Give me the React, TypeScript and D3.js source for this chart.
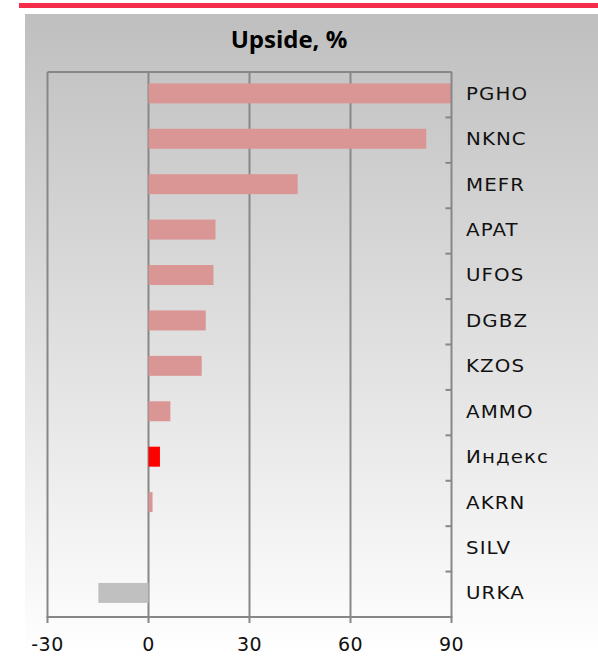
import React from 'react';
import * as d3 from 'd3';

// Upside by ticker, horizontal bars
const tickers = ['PGHO', 'NKNC', 'MEFR', 'APAT', 'UFOS', 'DGBZ', 'KZOS', 'AMMO', 'Индекс', 'AKRN', 'SILV', 'URKA'];
const upside = [90, 82.5, 44.3, 19.9, 19.3, 17.0, 15.8, 6.5, 3.4, 1.2, 0, -14.9];
const xTicks = [-30, 0, 30, 60, 90];

const width = 598;
const height = 656;
const margin = {top: 72, right: 147, bottom: 39, left: 47};

function barColor(name: string, v: number) {
    if (name === 'Индекс') return '#ff0000';
    if (v < 0) return '#c0c0c0';
    return '#da9694';
}

export default function App() {
    const x = d3.scaleLinear()
        .domain([-30, 90])
        .range([margin.left + 0.5, width - margin.right + 0.5]);

    const y = d3.scaleBand()
        .domain(tickers)
        .range([margin.top, height - margin.bottom])
        .paddingInner(0.56)
        .paddingOuter(0.28);

    const step = y.step();
    const top = margin.top;
    const bottom = height - margin.bottom;
    const boundaries = d3.range(tickers.length + 1).map((i) => top + i * (bottom - top) / tickers.length);
    const axisColor = '#878787';

    return (
        <svg width={width} height={height}
             style={{position: 'absolute', left: 0, top: 0, fontFamily: 'DejaVu Sans'}}>
            <defs>
                <linearGradient id="bg" x1="0" y1="0" x2="0" y2="1">
                    <stop offset="0" stopColor="#bfbfbf"/>
                    <stop offset="1" stopColor="#ffffff"/>
                </linearGradient>
            </defs>
            <rect x={0} y={0} width={width} height={height} fill="#ffffff"/>
            <rect x={19} y={3} width={width - 19} height={5} fill="#f52d4b"/>
            <rect x={25} y={14} width={width - 25} height={height - 14} fill="url(#bg)"/>

            <text x={289} y={48} textAnchor="middle" fontFamily="Open Sans" fontWeight="bold"
                  fontSize={24}>Upside, %</text>

            {/* gridlines */}
            {xTicks.slice(1, -1).map((t) => (
                <line key={'g' + t} x1={x(t)} x2={x(t)} y1={top} y2={bottom}
                      stroke={axisColor} strokeWidth={2}/>
            ))}

            {/* bars */}
            {tickers.map((name, i) => {
                const v = upside[i];
                const x0 = x(Math.min(0, v));
                const w = Math.abs(x(v) - x(0));
                return (
                    <rect key={name} x={x0} y={(y(name) as number) - step * 0.03}
                          width={w} height={y.bandwidth()} fill={barColor(name, v)}/>
                );
            })}

            {/* frame */}
            <line x1={x(-30)} x2={x(90)} y1={top} y2={top} stroke={axisColor} strokeWidth={2}/>
            <line x1={x(-30)} x2={x(-30)} y1={top} y2={bottom} stroke={axisColor} strokeWidth={2}/>
            <line x1={x(90)} x2={x(90)} y1={top} y2={bottom} stroke={axisColor} strokeWidth={2}/>
            <line x1={x(-30) - 1} x2={x(90) + 1} y1={bottom} y2={bottom} stroke={axisColor} strokeWidth={2}/>

            {/* right axis ticks */}
            {boundaries.map((b, i) => (
                <line key={'rt' + i} x1={x(90) - 6} x2={x(90)} y1={b} y2={b}
                      stroke={axisColor} strokeWidth={2}/>
            ))}

            {/* bottom axis ticks */}
            {xTicks.map((t) => (
                <line key={'bt' + t} x1={x(t)} x2={x(t)} y1={bottom} y2={bottom + 6}
                      stroke={axisColor} strokeWidth={2}/>
            ))}

            {/* category labels, slightly stretched like the original's wide face */}
            {tickers.map((name) => (
                <text key={'l' + name}
                      transform={`translate(466,${(y(name) as number) + y.bandwidth() / 2 - step * 0.03}) scale(1.1,1)`}
                      dy="0.36em" fontSize={18} letterSpacing={1} fill="#111">{name}</text>
            ))}

            {/* x tick labels */}
            {xTicks.map((t) => (
                <text key={'xl' + t} x={x(t)} y={651} textAnchor="middle" fontSize={19}
                      letterSpacing={0.5} fill="#111">{t}</text>
            ))}
        </svg>
    );
}
